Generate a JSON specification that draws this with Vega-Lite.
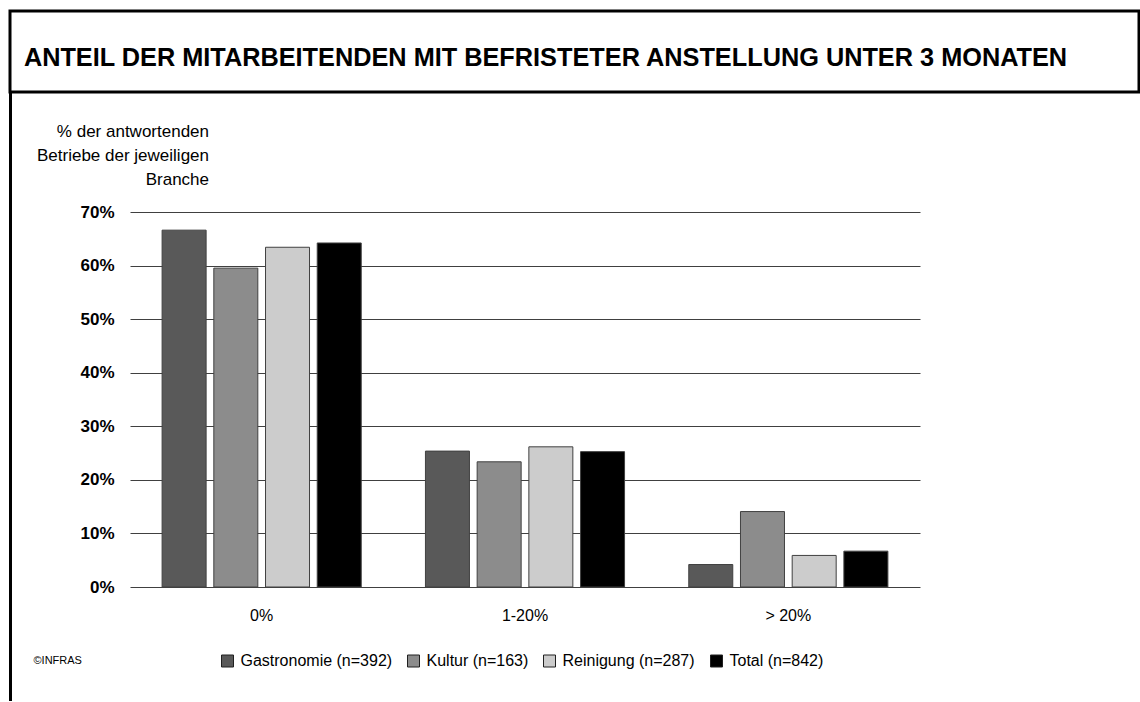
{
  "$schema": "https://vega.github.io/schema/vega-lite/v6.json",
  "padding": {"left": 8, "top": 9, "right": 0, "bottom": 0},
  "background": "white",
  "bounds": "flush",
  "spacing": 0,
  "config": {
    "font": "Liberation Sans",
    "view": {"stroke": null},
    "concat": {"spacing": 0}
  },
  "vconcat": [
    {
      "width": 1129,
      "height": 81,
      "view": {"stroke": "black", "strokeWidth": 3, "fill": "white"},
      "data": {"values": [{"titel": "ANTEIL DER MITARBEITENDEN MIT BEFRISTETER ANSTELLUNG UNTER 3 MONATEN"}]},
      "mark": {"type": "text", "font": "Liberation Sans", "fontSize": 25.3, "fontWeight": "bold", "align": "center", "baseline": "middle", "dx": -29, "dy": 6, "color": "black"},
      "encoding": {"text": {"field": "titel", "type": "nominal"}}
    },
    {
      "hconcat": [
        {
          "width": 1,
          "height": 608,
          "view": {"stroke": "black", "strokeWidth": 2},
          "data": {"values": [{"n": ""}]},
          "mark": {"type": "text", "opacity": 0},
          "encoding": {"text": {"field": "n", "type": "nominal"}}
        },
        {
          "width": 790,
          "height": 495,
          "data": {
            "values": [
              {"Kategorie": "0%", "Branche": "Gastronomie (n=392)", "Anteil": 0.667},
              {"Kategorie": "0%", "Branche": "Kultur (n=163)", "Anteil": 0.596},
              {"Kategorie": "0%", "Branche": "Reinigung (n=287)", "Anteil": 0.635},
              {"Kategorie": "0%", "Branche": "Total (n=842)", "Anteil": 0.643},
              {"Kategorie": "1-20%", "Branche": "Gastronomie (n=392)", "Anteil": 0.254},
              {"Kategorie": "1-20%", "Branche": "Kultur (n=163)", "Anteil": 0.234},
              {"Kategorie": "1-20%", "Branche": "Reinigung (n=287)", "Anteil": 0.262},
              {"Kategorie": "1-20%", "Branche": "Total (n=842)", "Anteil": 0.253},
              {"Kategorie": "> 20%", "Branche": "Gastronomie (n=392)", "Anteil": 0.042},
              {"Kategorie": "> 20%", "Branche": "Kultur (n=163)", "Anteil": 0.141},
              {"Kategorie": "> 20%", "Branche": "Reinigung (n=287)", "Anteil": 0.059},
              {"Kategorie": "> 20%", "Branche": "Total (n=842)", "Anteil": 0.067}
            ]
          },
          "mark": {"type": "bar", "stroke": "#404040", "strokeWidth": 1},
          "encoding": {
            "x": {
              "field": "Kategorie", "type": "nominal",
              "sort": ["0%", "1-20%", "> 20%"],
              "scale": {"paddingInner": 0, "paddingOuter": 0},
              "title": null,
              "axis": {"domain": false, "ticks": false, "labelAngle": 0, "labelFontSize": 16, "labelColor": "black", "labelPadding": 20, "labelFont": "Liberation Sans"}
            },
            "xOffset": {
              "field": "Branche", "type": "nominal",
              "sort": ["Gastronomie (n=392)", "Kultur (n=163)", "Reinigung (n=287)", "Total (n=842)"],
              "scale": {"paddingInner": 0.149, "paddingOuter": 0.621}
            },
            "y": {
              "field": "Anteil", "type": "quantitative",
              "scale": {"domain": [0, 0.9252], "nice": false, "zero": true},
              "title": ["% der antwortenden", "Betriebe der jeweiligen", "Branche"],
              "axis": {
                "values": [0, 0.1, 0.2, 0.3, 0.4, 0.5, 0.6, 0.7],
                "format": ".0%",
                "domain": false, "ticks": false,
                "grid": true, "gridColor": "#404040", "gridWidth": 1,
                "labelFontSize": 17, "labelFontWeight": "bold", "labelColor": "black", "labelPadding": 16,
                "titleAngle": 0, "titleAlign": "right", "titleBaseline": "top",
                "titleX": 78.5, "titleY": 31.5, "titleLineHeight": 24,
                "titleFontSize": 17, "titleFontWeight": "normal", "titleColor": "black", "titleFont": "Liberation Sans"
              }
            },
            "color": {
              "field": "Branche", "type": "nominal",
              "sort": ["Gastronomie (n=392)", "Kultur (n=163)", "Reinigung (n=287)", "Total (n=842)"],
              "scale": {
                "domain": ["Gastronomie (n=392)", "Kultur (n=163)", "Reinigung (n=287)", "Total (n=842)"],
                "range": ["#595959", "#8c8c8c", "#cccccc", "#000000"]
              },
              "legend": {
                "orient": "none", "legendX": 23.5, "legendY": 642,
                "direction": "horizontal",
                "title": "©INFRAS", "titleOrient": "left", "titleFontSize": 11, "titleFontWeight": "normal", "titleColor": "black", "titlePadding": 137, "titleBaseline": "middle", "titleAnchor": "middle",
                "padding": 0,
                "symbolType": "square", "symbolSize": 144, "symbolStrokeColor": "#202020", "symbolStrokeWidth": 1, "symbolOpacity": 1,
                "labelFontSize": 16, "labelColor": "black", "labelOffset": 5, "columnPadding": 13
              }
            }
          }
        }
      ],
      "bounds": "flush",
      "spacing": 119
    }
  ]
}
